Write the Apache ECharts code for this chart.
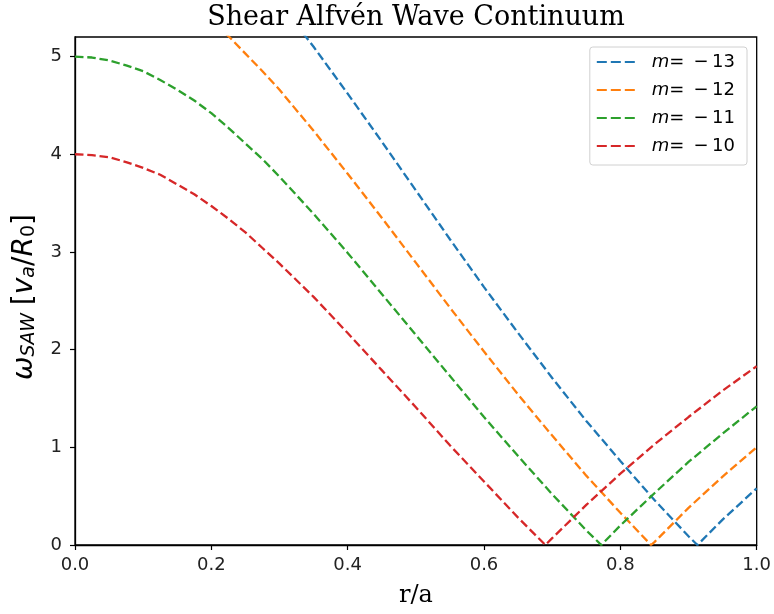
<!DOCTYPE html>
<html>
<head>
<meta charset="utf-8">
<script src="https://cdn.jsdelivr.net/npm/echarts@6/dist/echarts.min.js"></script>
<style>html,body{margin:0;padding:0;background:#fff}#c{width:774px;height:614px}</style>
</head>
<body>
<div id="c"></div>
<script>
// r/a grid
var rGrid = [0, 0.025, 0.05, 0.075, 0.10, 0.125, 0.15, 0.175, 0.20, 0.225, 0.25, 0.275, 0.30, 0.35, 0.40, 0.45, 0.50, 0.55, 0.60, 0.65, 0.70, 0.75, 0.80, 0.85, 0.90, 0.95, 1.00];
// omega values
var wM13 = [7.00, 6.99, 6.95, 6.90, 6.82, 6.72, 6.60, 6.47, 6.31, 6.14, 5.95, 5.76, 5.55, 5.10, 4.62, 4.13, 3.63, 3.13, 2.64, 2.17, 1.71, 1.27, 0.86, 0.46, 0.09, 0.26, 0.58];
var wM12 = [6.00, 5.99, 5.96, 5.91, 5.83, 5.74, 5.63, 5.51, 5.36, 5.21, 5.03, 4.85, 4.66, 4.24, 3.80, 3.35, 2.89, 2.43, 1.98, 1.54, 1.12, 0.71, 0.33, 0.03, 0.38, 0.70, 1.00];
var wM11 = [5.00, 4.99, 4.96, 4.91, 4.85, 4.76, 4.66, 4.55, 4.42, 4.27, 4.11, 3.95, 3.77, 3.39, 2.99, 2.57, 2.15, 1.73, 1.31, 0.91, 0.52, 0.15, 0.20, 0.53, 0.85, 1.14, 1.42];
var wM10 = [4.00, 3.99, 3.97, 3.92, 3.86, 3.79, 3.69, 3.59, 3.47, 3.34, 3.20, 3.04, 2.88, 2.54, 2.17, 1.79, 1.41, 1.02, 0.65, 0.28, 0.07, 0.41, 0.73, 1.03, 1.31, 1.58, 1.83];
// r/a where each branch touches zero
var zeroM13 = 0.913, zeroM12 = 0.845, zeroM11 = 0.772, zeroM10 = 0.690;
var seriesNames = ['m = \u221213', 'm = \u221212', 'm = \u221211', 'm = \u221210'];
var colors = ['#1f77b4', '#ff7f0e', '#2ca02c', '#d62728'];
var xTicks = [0, 0.2, 0.4, 0.6, 0.8, 1.0];
var yTicks = [0, 1, 2, 3, 4, 5];

function build(w, z) {
  var pts = rGrid.map(function (r, i) { return [r, w[i]]; });
  pts.push([z, 0]);
  pts.sort(function (a, b) { return a[0] - b[0]; });
  return pts;
}
var allW = [wM13, wM12, wM11, wM10];
var allZ = [zeroM13, zeroM12, zeroM11, zeroM10];
var dashIcon = 'path://M0 0h10v2H0z M14 0h10v2H14z M28 0h10v2H28z';

var chart = echarts.init(document.getElementById('c'));
var series = seriesNames.map(function (n, i) {
  return {
    name: n, type: 'line', data: build(allW[i], allZ[i]),
    showSymbol: false, symbol: 'none', clip: true,
    lineStyle: { color: colors[i], width: 2.3, type: [8.5, 3.8] },
    itemStyle: { color: colors[i] },
    emphasis: { disabled: true }
  };
});
chart.setOption({
  animation: false,
  title: {
    text: 'Shear Alfv\u00e9n Wave Continuum', left: 411, top: -1, textAlign: 'center',
    textStyle: { fontFamily: 'DejaVu Serif', fontSize: 27, fontWeight: 'normal', color: '#000' }
  },
  grid: { left: 75, right: 17, top: 37, bottom: 69, show: true, borderColor: '#000', borderWidth: 1.3, backgroundColor: 'transparent' },
  legend: {
    orient: 'vertical', right: 27, top: 47,
    itemWidth: 38, itemHeight: 2.3, itemGap: 8,
    padding: [5, 12, 9, 7],
    borderColor: '#d0d0d0', borderWidth: 1, borderRadius: 3, backgroundColor: '#fff',
    formatter: function (n) { return '{i|m}{t|=\u2002\u2212\u2009' + n.slice(5) + '}'; },
    textStyle: {
      fontSize: 18, color: '#000', fontFamily: 'DejaVu Sans', lineHeight: 20,
      rich: {
        i: { fontSize: 18, fontStyle: 'italic', fontFamily: 'DejaVu Sans', color: '#000', padding: [0, 0, 0, 12], lineHeight: 20 },
        t: { fontSize: 18, fontFamily: 'DejaVu Sans', color: '#000', lineHeight: 20 }
      }
    },
    data: seriesNames.map(function (n) { return { name: n, icon: dashIcon }; })
  },
  xAxis: {
    type: 'value', min: 0, max: 1, interval: 0.2,
    name: 'r/a', nameLocation: 'middle', nameGap: 39,
    nameTextStyle: { fontFamily: 'DejaVu Serif', fontSize: 24, color: '#000' },
    axisLine: { show: true, lineStyle: { color: '#000', width: 1.3 } },
    axisTick: { show: true, length: 5, lineStyle: { color: '#000', width: 1.2 }, customValues: xTicks },
    axisLabel: { color: '#222', fontFamily: 'DejaVu Sans', fontSize: 18, margin: 11,
      customValues: xTicks, formatter: function (v) { return v.toFixed(1); } },
    splitLine: { show: false }
  },
  yAxis: {
    type: 'value', min: 0, max: 5.2, interval: 1,
    name: '{w|\u03c9}{s|SAW} {n|[}{w|v}{s|a}{n|/}{w|R}{s0|0}{n|]}', nameLocation: 'middle', nameGap: 36,
    nameTextStyle: {
      color: '#000', fontSize: 28, padding: [0, 12, 0, 0],
      rich: {
        w: { fontFamily: 'DejaVu Sans', fontStyle: 'italic', fontSize: 28, color: '#000', verticalAlign: 'bottom', lineHeight: 32 },
        n: { fontFamily: 'DejaVu Sans', fontSize: 28, color: '#000', verticalAlign: 'bottom', lineHeight: 32 },
        s: { fontFamily: 'DejaVu Sans', fontStyle: 'italic', fontSize: 19, color: '#000', verticalAlign: 'bottom', lineHeight: 19 },
        s0: { fontFamily: 'DejaVu Sans', fontSize: 19, color: '#000', verticalAlign: 'bottom', lineHeight: 19 }
      }
    },
    axisLine: { show: true, lineStyle: { color: '#000', width: 1.3 } },
    axisTick: { show: true, length: 5, lineStyle: { color: '#000', width: 1.2 }, customValues: yTicks },
    axisLabel: { color: '#222', fontFamily: 'DejaVu Sans', fontSize: 18, margin: 13, customValues: yTicks },
    splitLine: { show: false }
  },
  series: series
});
</script>
</body>
</html>
